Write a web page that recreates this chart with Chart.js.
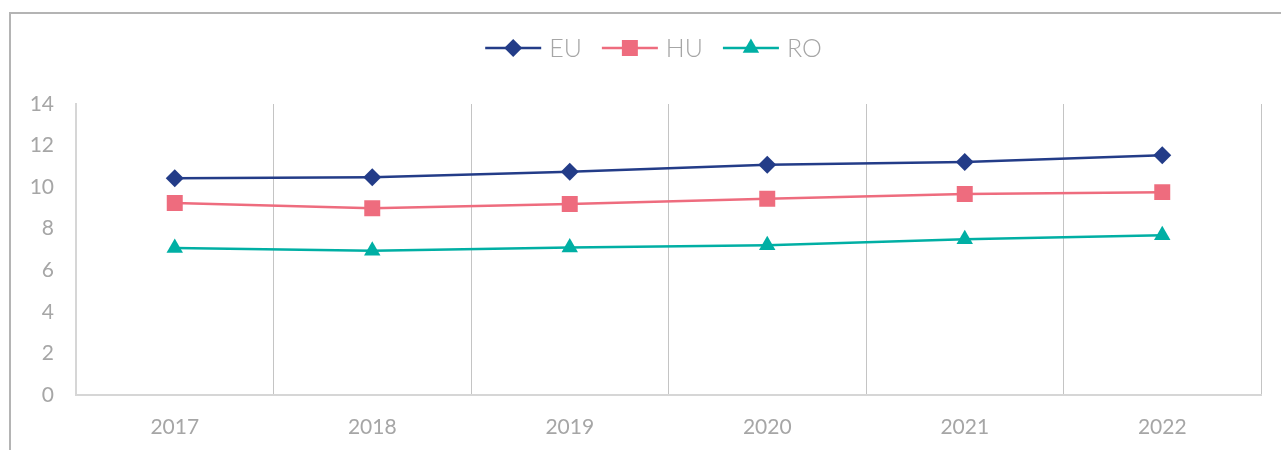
<!DOCTYPE html>
<html>
<head>
<meta charset="utf-8">
<script src="https://cdn.jsdelivr.net/npm/chart.js@4/dist/chart.umd.min.js"></script>
<style>
  html, body { margin: 0; padding: 0; background: #ffffff; overflow: hidden; }
  #wrap { position: relative; width: 1281px; height: 450px; }
  #frame { position: absolute; left: 9px; top: 12px; width: 1300px; height: 500px;
           border-left: 2px solid #b4b4b4; border-top: 2px solid #b4b4b4; pointer-events: none; }
  canvas { position: absolute; left: 0; top: 0; }
</style>
</head>
<body>
<div id="wrap">
  <canvas id="c" width="1281" height="450"></canvas>
  <div id="frame"></div>
</div>
<script>
const categories = ['2017', '2018', '2019', '2020', '2021', '2022'];
const seriesNames = ['EU', 'HU', 'RO'];
const euValues = [10.43, 10.48, 10.74, 11.08, 11.21, 11.54];
const huValues = [9.24, 8.99, 9.19, 9.44, 9.67, 9.76];
const roValues = [7.07, 6.94, 7.10, 7.21, 7.49, 7.68];
const yTicks = [0, 2, 4, 6, 8, 10, 12, 14];

const colors = ['#233c88', '#ee6c7e', '#00afa4'];
const markers = [
  { style: 'rectRot', radius: 9 },
  { style: 'rect', radius: 11.3 },
  { style: 'triangle', radius: 9.5 }
];
const textColor = '#a6a6a6';
const fontFamily = 'Lato, "Open Sans", sans-serif';

function drawMarker(ctx, style, x, y, r, color) {
  ctx.save();
  ctx.fillStyle = color;
  ctx.beginPath();
  if (style === 'rectRot') {
    ctx.moveTo(x - r, y); ctx.lineTo(x, y - r); ctx.lineTo(x + r, y); ctx.lineTo(x, y + r);
  } else if (style === 'rect') {
    const s = Math.SQRT1_2 * r;
    ctx.rect(x - s, y - s, 2 * s, 2 * s);
  } else {
    ctx.moveTo(x, y - r);
    ctx.lineTo(x + r * Math.sin(Math.PI * 2 / 3), y + r / 2);
    ctx.lineTo(x - r * Math.sin(Math.PI * 2 / 3), y + r / 2);
  }
  ctx.closePath();
  ctx.fill();
  ctx.restore();
}

const legendPlugin = {
  id: 'customLegend',
  afterDraw(chart) {
    const ctx = chart.ctx;
    ctx.save();
    ctx.font = '300 25px ' + fontFamily;
    const lineLen = 56, gapText = 8, gapItem = 20;
    const widths = chart.data.datasets.map(d => lineLen + gapText + ctx.measureText(d.label).width);
    const total = widths.reduce((a, b) => a + b, 0) + gapItem * (widths.length - 1);
    let x = 653.5 - total / 2;
    const y = 48;
    chart.data.datasets.forEach((d, i) => {
      ctx.strokeStyle = d.borderColor;
      ctx.lineWidth = 2.5;
      ctx.beginPath();
      ctx.moveTo(x, y); ctx.lineTo(x + lineLen, y);
      ctx.stroke();
      drawMarker(ctx, d.pointStyle, x + lineLen / 2, y, d.pointRadius, d.borderColor);
      ctx.fillStyle = textColor;
      ctx.textBaseline = 'middle';
      ctx.textAlign = 'left';
      ctx.fillText(d.label, x + lineLen + gapText, y + 1);
      x += widths[i] + gapItem;
    });
    ctx.restore();
  }
};

const seriesValues = [euValues, huValues, roValues];
const datasets = seriesNames.map((name, i) => ({
  label: name,
  data: seriesValues[i],
  borderColor: colors[i],
  backgroundColor: colors[i],
  pointBackgroundColor: colors[i],
  pointBorderColor: colors[i],
  pointBorderWidth: 0,
  borderWidth: 2.5,
  pointStyle: markers[i].style,
  pointRadius: markers[i].radius,
  pointHoverRadius: markers[i].radius,
  tension: 0,
  fill: false
}));

new Chart(document.getElementById('c'), {
  type: 'line',
  data: { labels: categories, datasets: datasets },
  plugins: [legendPlugin],
  options: {
    responsive: false,
    animation: false,
    devicePixelRatio: 1,
    layout: { padding: { left: 0, right: 20, top: 104, bottom: 0 } },
    plugins: { legend: { display: false }, tooltip: { enabled: false } },
    scales: {
      x: {
        offset: true,
        grid: { display: true, offset: true, color: '#c4c4c4', lineWidth: 1, drawTicks: false },
        border: { display: true, color: '#d6d6d6', width: 2 },
        ticks: { color: textColor, font: { family: fontFamily, size: 21 }, padding: 20, maxRotation: 0 },
        afterFit(scale) { scale.height = 55; }
      },
      y: {
        min: 0, max: 14,
        afterBuildTicks(scale) { scale.ticks = yTicks.map(v => ({ value: v })); },
        grid: { display: false, drawTicks: false },
        border: { display: true, color: '#d6d6d6', width: 2 },
        ticks: { color: textColor, font: { family: fontFamily, size: 21 }, padding: 22 },
        afterFit(scale) { scale.width = 76; }
      }
    }
  }
});
</script>
</body>
</html>
